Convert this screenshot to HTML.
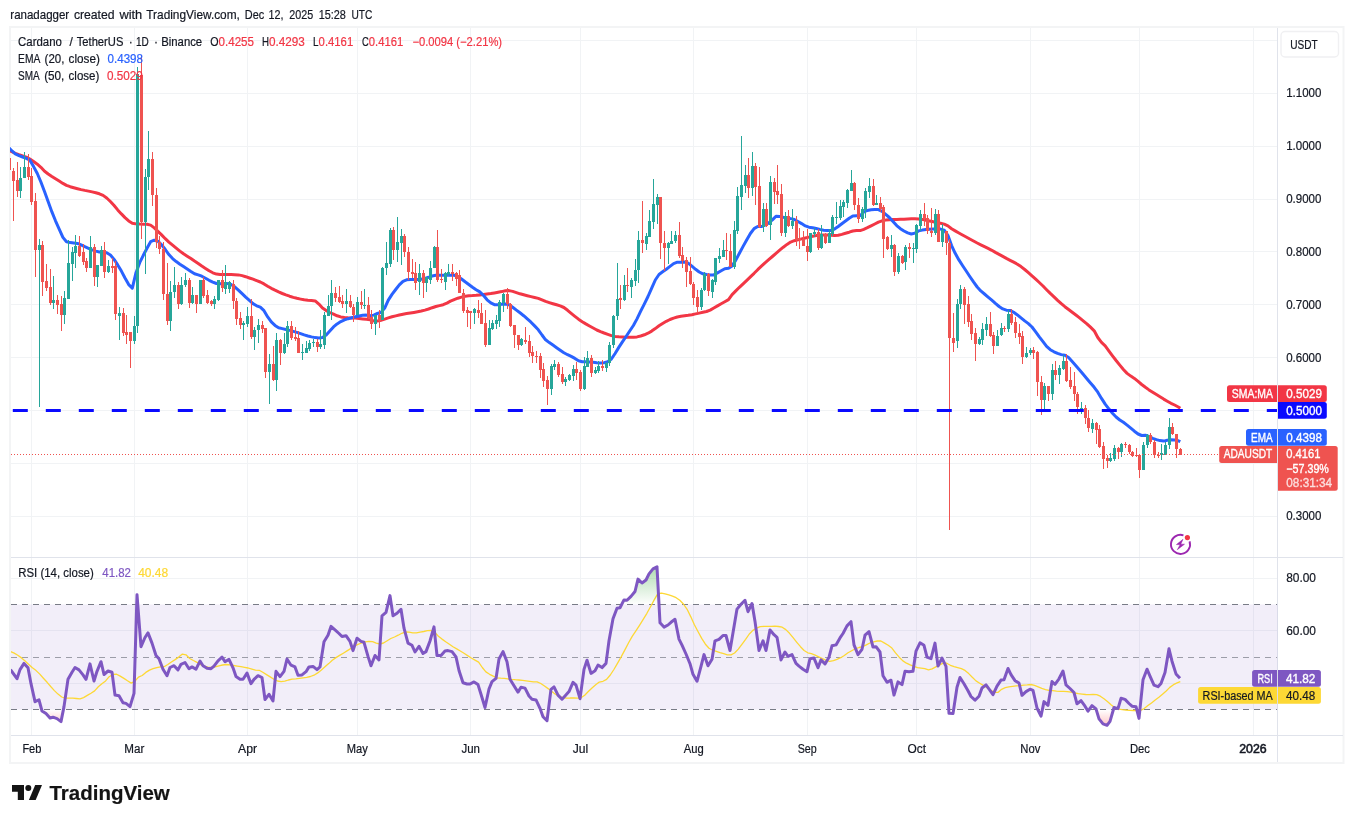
<!DOCTYPE html><html><head><meta charset="utf-8"><title>ADAUSDT chart</title><style>html,body{margin:0;padding:0;background:#fff}body{width:1353px;height:823px;overflow:hidden}</style></head><body><svg width="1353" height="823" viewBox="0 0 1353 823" style="display:block" font-family='"Liberation Sans", sans-serif'>
<rect width="1353" height="823" fill="#fff"/>
<defs><clipPath id="cm"><rect x="10" y="28" width="1267.5" height="529"/></clipPath><clipPath id="cr"><rect x="11" y="558" width="1266.5" height="177.5"/></clipPath><clipPath id="cu"><rect x="11" y="558" width="1266.5" height="46.8"/></clipPath><clipPath id="cl"><rect x="11" y="709.8" width="1266.5" height="26"/></clipPath><linearGradient id="gu" x1="0" y1="558" x2="0" y2="604.8" gradientUnits="userSpaceOnUse"><stop offset="0" stop-color="#4caf50" stop-opacity="0.55"/><stop offset="1" stop-color="#4caf50" stop-opacity="0"/></linearGradient><linearGradient id="gl" x1="0" y1="709.8" x2="0" y2="736" gradientUnits="userSpaceOnUse"><stop offset="0" stop-color="#ff5252" stop-opacity="0"/><stop offset="1" stop-color="#ff5252" stop-opacity="0.55"/></linearGradient></defs>
<rect x="10" y="27" width="1333.5" height="736" fill="none" stroke="#f3f4f5" stroke-width="2"/>
<path d="M31.5 28V735 M134.5 28V735 M247.5 28V735 M357.5 28V735 M470.5 28V735 M580.5 28V735 M693.5 28V735 M807.5 28V735 M916.5 28V735 M1030.5 28V735 M1139.5 28V735 M1253.5 28V735 M11 40.5H1277 M11 93.5H1277 M11 146.5H1277 M11 199.5H1277 M11 251.5H1277 M11 304.5H1277 M11 357.5H1277 M11 410.5H1277 M11 463.5H1277 M11 516.5H1277 M11 578.5H1277 M11 630.5H1277 M11 683.5H1277" stroke="#f1f3f5" stroke-width="1" fill="none" shape-rendering="crispEdges"/>
<path d="M11 557.5H1343 M11 735.5H1343 M1277.5 28V762" stroke="#e0e3eb" stroke-width="1" fill="none" shape-rendering="crispEdges"/>
<rect x="11" y="604.5" width="1266.5" height="105" fill="#7e57c2" fill-opacity="0.1"/>
<path d="M11 604.5H1277 M11 709.5H1277" stroke="#787b86" stroke-width="1" stroke-dasharray="6 5" fill="none" shape-rendering="crispEdges"/>
<path d="M11 657.5H1277" stroke="#787b86" stroke-opacity="0.7" stroke-width="1" stroke-dasharray="6 5" fill="none" shape-rendering="crispEdges"/>
<path d="M10.5 651.6 L14.2 653.1 L17.8 655.3 L21.5 657.9 L25.1 661.0 L28.8 664.5 L32.4 667.8 L36.1 670.6 L39.8 674.1 L43.4 678.2 L47.1 682.3 L50.7 686.5 L54.4 690.6 L58.0 694.1 L61.7 697.0 L65.4 698.1 L69.0 698.1 L72.7 698.2 L76.3 698.5 L80.0 698.8 L83.6 697.6 L87.3 695.4 L91.0 693.2 L94.6 690.9 L98.3 686.8 L101.9 683.7 L105.6 680.9 L109.2 676.7 L112.9 674.5 L116.6 674.2 L120.2 676.1 L123.9 678.4 L127.5 680.8 L131.2 683.1 L134.8 681.3 L138.5 677.1 L142.2 675.5 L145.8 672.4 L149.5 670.1 L153.1 668.7 L156.8 667.6 L160.4 666.8 L164.1 666.7 L167.8 664.5 L171.4 662.0 L175.1 659.6 L178.7 657.1 L182.4 654.1 L186.0 654.8 L189.7 658.5 L193.4 660.5 L197.0 662.3 L200.7 664.6 L204.3 666.1 L208.0 667.1 L211.6 667.5 L215.3 666.9 L219.0 665.8 L222.6 665.0 L226.3 664.5 L229.9 664.9 L233.6 665.5 L237.2 666.1 L240.9 666.7 L244.6 667.3 L248.2 668.0 L251.9 669.1 L255.5 670.1 L259.2 670.3 L262.8 672.3 L266.5 674.6 L270.2 676.9 L273.8 679.2 L277.5 681.0 L281.1 681.6 L284.8 681.2 L288.4 680.0 L292.1 679.2 L295.8 678.8 L299.4 678.3 L303.1 677.8 L306.7 677.3 L310.4 676.5 L314.0 675.2 L317.7 672.9 L321.4 670.0 L325.0 666.8 L328.7 663.6 L332.3 660.2 L336.0 657.6 L339.6 655.4 L343.3 653.2 L347.0 650.9 L350.6 648.6 L354.3 646.3 L357.9 644.4 L361.6 643.0 L365.2 641.8 L368.9 641.3 L372.6 641.7 L376.2 643.1 L379.9 644.0 L383.5 643.0 L387.2 640.7 L390.8 638.5 L394.5 637.0 L398.2 635.2 L401.8 633.3 L405.5 631.8 L409.1 632.1 L412.8 632.8 L416.4 632.9 L420.1 632.2 L423.8 631.5 L427.4 630.7 L431.1 630.5 L434.7 632.3 L438.4 636.2 L442.0 639.1 L445.7 641.8 L449.4 644.3 L453.0 646.8 L456.7 648.9 L460.3 651.0 L464.0 653.3 L467.6 655.6 L471.3 658.0 L475.0 660.1 L478.6 662.1 L482.3 667.5 L485.9 671.9 L489.6 674.3 L493.3 676.2 L496.9 677.9 L500.6 678.2 L504.2 678.4 L507.9 678.8 L511.5 679.3 L515.2 679.7 L518.9 680.0 L522.5 680.4 L526.2 680.9 L529.8 681.4 L533.5 681.9 L537.1 681.8 L540.8 683.5 L544.5 686.0 L548.1 688.6 L551.8 691.4 L555.4 694.2 L559.1 696.2 L562.7 697.5 L566.4 698.1 L570.1 698.0 L573.7 697.8 L577.4 698.1 L581.0 697.8 L584.7 695.2 L588.3 691.5 L592.0 688.0 L595.7 684.8 L599.3 682.1 L603.0 681.3 L606.6 679.4 L610.3 675.0 L613.9 669.5 L617.6 663.1 L621.3 656.6 L624.9 649.9 L628.6 642.8 L632.2 636.4 L635.9 630.9 L639.5 625.3 L643.2 619.4 L646.9 613.3 L650.5 606.8 L654.2 599.9 L657.8 593.6 L661.5 593.1 L665.1 593.8 L668.8 594.8 L672.5 596.1 L676.1 597.7 L679.8 600.2 L683.4 604.0 L687.1 609.3 L690.7 616.6 L694.4 624.8 L698.1 631.8 L701.7 638.4 L705.4 644.2 L709.0 648.2 L712.7 650.2 L716.3 651.4 L720.0 652.6 L723.7 653.7 L727.3 654.8 L731.0 654.8 L734.6 653.0 L738.3 649.1 L741.9 644.3 L745.6 639.3 L749.3 634.0 L752.9 630.4 L756.6 628.1 L760.2 626.6 L763.9 626.4 L767.5 626.4 L771.2 626.3 L774.9 626.2 L778.5 626.5 L782.2 627.2 L785.8 629.6 L789.5 633.3 L793.1 637.7 L796.8 642.3 L800.5 646.7 L804.1 650.5 L807.8 652.8 L811.4 653.7 L815.1 655.1 L818.7 656.9 L822.4 658.7 L826.1 660.4 L829.7 661.3 L833.4 660.6 L837.0 659.3 L840.7 657.7 L844.3 655.5 L848.0 652.8 L851.7 650.7 L855.3 648.8 L859.0 647.5 L862.6 646.6 L866.3 644.9 L869.9 643.0 L873.6 641.9 L877.3 641.0 L880.9 641.0 L884.6 643.1 L888.2 645.3 L891.9 648.1 L895.5 652.9 L899.2 657.2 L902.9 660.9 L906.5 663.2 L910.2 664.9 L913.8 666.4 L917.5 667.7 L921.1 668.1 L924.8 668.6 L928.5 669.8 L932.1 668.8 L935.8 666.9 L939.4 665.1 L943.1 663.2 L946.7 663.2 L950.4 665.3 L954.1 666.6 L957.7 667.6 L961.4 668.6 L965.0 670.4 L968.7 673.6 L972.3 677.3 L976.0 680.9 L979.7 683.2 L983.3 685.4 L987.0 687.7 L990.6 690.1 L994.3 692.3 L997.9 692.4 L1001.6 689.3 L1005.3 687.7 L1008.9 686.9 L1012.6 686.3 L1016.2 685.9 L1019.9 685.6 L1023.5 685.2 L1027.2 684.9 L1030.9 684.5 L1034.5 685.3 L1038.2 686.8 L1041.8 688.4 L1045.5 689.6 L1049.1 690.3 L1052.8 690.7 L1056.5 691.1 L1060.1 691.3 L1063.8 691.4 L1067.4 691.6 L1071.1 692.2 L1074.7 693.0 L1078.4 693.7 L1082.1 694.1 L1085.7 694.5 L1089.4 694.7 L1093.0 694.3 L1096.7 694.6 L1100.3 696.2 L1104.0 698.8 L1107.7 701.8 L1111.3 704.9 L1115.0 707.7 L1118.6 709.1 L1122.3 709.6 L1125.9 710.0 L1129.6 710.3 L1133.3 710.5 L1136.9 710.5 L1140.6 710.3 L1144.2 708.5 L1147.9 705.6 L1151.5 702.9 L1155.2 700.1 L1158.9 697.3 L1162.5 694.2 L1166.2 691.0 L1169.8 687.4 L1173.5 684.7 L1177.1 682.9 L1180.3 681.6" stroke="#fdd835" stroke-width="1.3" fill="none" stroke-linejoin="round" clip-path="url(#cr)"/>
<path d="M10.5 669.6 L17.0 678.7 L20.0 669.6 L24.0 663.4 L28.0 667.8 L31.0 683.7 L35.0 701.7 L39.0 699.9 L42.0 711.0 L46.0 713.6 L50.0 718.0 L53.0 717.2 L57.0 718.6 L61.0 721.6 L64.0 706.6 L68.0 679.3 L72.0 672.2 L75.0 667.5 L79.0 669.9 L83.0 674.9 L86.0 679.3 L90.0 663.9 L94.0 681.0 L97.0 671.3 L101.0 661.7 L104.0 674.5 L108.0 671.0 L112.0 672.2 L115.0 695.1 L119.0 695.7 L123.0 702.7 L126.0 703.4 L130.0 706.6 L134.0 693.4 L137.0 594.7 L141.0 646.7 L145.0 637.5 L148.0 632.9 L152.0 643.1 L156.0 655.5 L159.0 658.7 L163.0 669.2 L167.0 675.7 L170.0 667.5 L174.0 665.7 L178.0 669.9 L181.0 664.3 L185.0 662.5 L189.0 668.7 L192.0 666.9 L196.0 669.2 L200.0 661.1 L203.0 665.7 L207.0 668.2 L211.0 668.7 L214.0 666.1 L218.0 660.8 L222.0 657.2 L225.0 661.7 L229.0 659.4 L233.0 667.8 L236.0 676.6 L240.0 679.3 L243.0 679.3 L247.0 673.1 L251.0 683.7 L254.0 679.3 L258.0 675.7 L262.0 677.5 L265.0 699.5 L269.0 694.3 L273.0 700.9 L276.0 671.3 L280.0 676.6 L284.0 671.3 L287.0 659.0 L291.0 665.2 L295.0 666.9 L298.0 675.2 L302.0 674.9 L306.0 671.7 L309.0 666.9 L313.0 666.4 L317.0 669.6 L320.0 666.9 L324.0 641.7 L328.0 635.2 L331.0 626.4 L335.0 629.9 L339.0 633.5 L342.0 636.5 L346.0 635.7 L350.0 641.4 L353.0 650.6 L357.0 638.2 L361.0 641.4 L364.0 642.3 L368.0 656.4 L371.0 665.7 L375.0 655.5 L379.0 659.9 L382.0 615.8 L386.0 612.3 L390.0 595.6 L393.0 615.8 L397.0 613.2 L401.0 609.3 L404.0 628.2 L408.0 643.1 L412.0 645.3 L415.0 652.0 L419.0 646.3 L423.0 653.4 L426.0 651.6 L430.0 641.0 L434.0 626.9 L437.0 655.5 L441.0 655.5 L445.0 651.1 L448.0 650.6 L452.0 651.6 L456.0 656.9 L459.0 670.5 L463.0 682.8 L467.0 684.0 L470.0 684.0 L474.0 681.9 L478.0 684.6 L481.0 694.3 L485.0 707.5 L489.0 689.0 L492.0 681.6 L496.0 678.4 L499.0 659.0 L503.0 651.6 L507.0 661.7 L510.0 679.3 L514.0 685.8 L518.0 692.1 L521.0 687.2 L525.0 688.1 L529.0 696.0 L532.0 699.2 L536.0 699.9 L540.0 708.3 L543.0 716.8 L547.0 720.7 L551.0 689.3 L554.0 686.9 L558.0 695.1 L562.0 699.2 L565.0 696.0 L569.0 691.6 L573.0 682.3 L576.0 685.1 L580.0 698.7 L584.0 669.4 L587.0 660.2 L591.0 673.4 L595.0 670.8 L598.0 665.1 L602.0 667.6 L606.0 663.4 L609.0 640.8 L613.0 618.8 L617.0 608.2 L620.0 607.7 L624.0 599.9 L627.0 600.3 L631.0 596.4 L635.0 591.5 L638.0 579.1 L642.0 583.0 L646.0 580.0 L649.0 573.9 L653.0 568.9 L657.0 566.8 L660.0 622.8 L664.0 627.1 L668.0 625.0 L671.0 622.3 L675.0 619.3 L679.0 639.1 L682.0 645.2 L686.0 654.0 L690.0 663.7 L693.0 674.3 L697.0 681.3 L701.0 666.4 L704.0 654.6 L708.0 665.8 L712.0 659.3 L715.0 640.8 L719.0 639.4 L723.0 635.5 L726.0 635.5 L730.0 650.5 L734.0 626.7 L737.0 609.1 L741.0 604.2 L745.0 600.3 L748.0 611.7 L752.0 603.5 L755.0 621.4 L759.0 650.5 L763.0 640.8 L766.0 650.5 L770.0 629.9 L774.0 634.7 L777.0 637.3 L781.0 659.9 L785.0 652.0 L788.0 656.4 L792.0 654.6 L796.0 663.4 L799.0 666.1 L803.0 669.2 L807.0 671.7 L810.0 658.7 L814.0 658.1 L818.0 667.8 L821.0 659.9 L825.0 663.9 L829.0 657.2 L832.0 645.8 L836.0 644.9 L840.0 637.9 L843.0 633.5 L847.0 625.9 L851.0 621.7 L854.0 644.9 L858.0 654.6 L862.0 649.3 L865.0 635.2 L869.0 631.7 L873.0 647.0 L876.0 646.7 L880.0 652.0 L883.0 675.7 L887.0 682.3 L891.0 680.2 L894.0 695.1 L898.0 681.9 L902.0 684.6 L905.0 671.3 L909.0 671.7 L913.0 671.3 L916.0 651.1 L920.0 642.8 L924.0 645.3 L927.0 657.2 L931.0 658.7 L935.0 643.1 L938.0 666.1 L942.0 658.1 L946.0 666.4 L949.0 713.3 L953.0 713.6 L957.0 687.2 L960.0 677.5 L964.0 683.7 L968.0 690.7 L971.0 696.5 L975.0 700.2 L979.0 696.2 L982.0 688.0 L986.0 684.9 L990.0 690.3 L993.0 694.7 L997.0 686.1 L1001.0 680.1 L1004.0 679.8 L1008.0 668.5 L1011.0 674.7 L1015.0 680.7 L1019.0 683.0 L1022.0 695.3 L1026.0 691.6 L1030.0 689.2 L1033.0 690.3 L1037.0 708.0 L1041.0 716.2 L1044.0 701.6 L1048.0 705.3 L1052.0 681.6 L1055.0 684.3 L1059.0 678.8 L1063.0 671.0 L1066.0 684.9 L1070.0 688.5 L1074.0 692.5 L1077.0 703.8 L1081.0 700.7 L1085.0 706.2 L1088.0 711.1 L1092.0 705.6 L1096.0 708.9 L1099.0 718.9 L1103.0 723.9 L1107.0 725.3 L1110.0 721.3 L1114.0 707.5 L1118.0 708.6 L1121.0 698.3 L1125.0 699.4 L1129.0 703.5 L1132.0 706.2 L1136.0 706.7 L1139.0 718.4 L1143.0 679.8 L1147.0 669.2 L1150.0 676.1 L1154.0 685.2 L1158.0 686.7 L1161.0 683.4 L1165.0 672.5 L1169.0 648.8 L1172.0 661.2 L1176.0 673.9 L1180.0 678.3 L1180.0 604.5 L10.5 604.5Z" fill="url(#gu)" clip-path="url(#cu)"/>
<path d="M10.5 669.6 L17.0 678.7 L20.0 669.6 L24.0 663.4 L28.0 667.8 L31.0 683.7 L35.0 701.7 L39.0 699.9 L42.0 711.0 L46.0 713.6 L50.0 718.0 L53.0 717.2 L57.0 718.6 L61.0 721.6 L64.0 706.6 L68.0 679.3 L72.0 672.2 L75.0 667.5 L79.0 669.9 L83.0 674.9 L86.0 679.3 L90.0 663.9 L94.0 681.0 L97.0 671.3 L101.0 661.7 L104.0 674.5 L108.0 671.0 L112.0 672.2 L115.0 695.1 L119.0 695.7 L123.0 702.7 L126.0 703.4 L130.0 706.6 L134.0 693.4 L137.0 594.7 L141.0 646.7 L145.0 637.5 L148.0 632.9 L152.0 643.1 L156.0 655.5 L159.0 658.7 L163.0 669.2 L167.0 675.7 L170.0 667.5 L174.0 665.7 L178.0 669.9 L181.0 664.3 L185.0 662.5 L189.0 668.7 L192.0 666.9 L196.0 669.2 L200.0 661.1 L203.0 665.7 L207.0 668.2 L211.0 668.7 L214.0 666.1 L218.0 660.8 L222.0 657.2 L225.0 661.7 L229.0 659.4 L233.0 667.8 L236.0 676.6 L240.0 679.3 L243.0 679.3 L247.0 673.1 L251.0 683.7 L254.0 679.3 L258.0 675.7 L262.0 677.5 L265.0 699.5 L269.0 694.3 L273.0 700.9 L276.0 671.3 L280.0 676.6 L284.0 671.3 L287.0 659.0 L291.0 665.2 L295.0 666.9 L298.0 675.2 L302.0 674.9 L306.0 671.7 L309.0 666.9 L313.0 666.4 L317.0 669.6 L320.0 666.9 L324.0 641.7 L328.0 635.2 L331.0 626.4 L335.0 629.9 L339.0 633.5 L342.0 636.5 L346.0 635.7 L350.0 641.4 L353.0 650.6 L357.0 638.2 L361.0 641.4 L364.0 642.3 L368.0 656.4 L371.0 665.7 L375.0 655.5 L379.0 659.9 L382.0 615.8 L386.0 612.3 L390.0 595.6 L393.0 615.8 L397.0 613.2 L401.0 609.3 L404.0 628.2 L408.0 643.1 L412.0 645.3 L415.0 652.0 L419.0 646.3 L423.0 653.4 L426.0 651.6 L430.0 641.0 L434.0 626.9 L437.0 655.5 L441.0 655.5 L445.0 651.1 L448.0 650.6 L452.0 651.6 L456.0 656.9 L459.0 670.5 L463.0 682.8 L467.0 684.0 L470.0 684.0 L474.0 681.9 L478.0 684.6 L481.0 694.3 L485.0 707.5 L489.0 689.0 L492.0 681.6 L496.0 678.4 L499.0 659.0 L503.0 651.6 L507.0 661.7 L510.0 679.3 L514.0 685.8 L518.0 692.1 L521.0 687.2 L525.0 688.1 L529.0 696.0 L532.0 699.2 L536.0 699.9 L540.0 708.3 L543.0 716.8 L547.0 720.7 L551.0 689.3 L554.0 686.9 L558.0 695.1 L562.0 699.2 L565.0 696.0 L569.0 691.6 L573.0 682.3 L576.0 685.1 L580.0 698.7 L584.0 669.4 L587.0 660.2 L591.0 673.4 L595.0 670.8 L598.0 665.1 L602.0 667.6 L606.0 663.4 L609.0 640.8 L613.0 618.8 L617.0 608.2 L620.0 607.7 L624.0 599.9 L627.0 600.3 L631.0 596.4 L635.0 591.5 L638.0 579.1 L642.0 583.0 L646.0 580.0 L649.0 573.9 L653.0 568.9 L657.0 566.8 L660.0 622.8 L664.0 627.1 L668.0 625.0 L671.0 622.3 L675.0 619.3 L679.0 639.1 L682.0 645.2 L686.0 654.0 L690.0 663.7 L693.0 674.3 L697.0 681.3 L701.0 666.4 L704.0 654.6 L708.0 665.8 L712.0 659.3 L715.0 640.8 L719.0 639.4 L723.0 635.5 L726.0 635.5 L730.0 650.5 L734.0 626.7 L737.0 609.1 L741.0 604.2 L745.0 600.3 L748.0 611.7 L752.0 603.5 L755.0 621.4 L759.0 650.5 L763.0 640.8 L766.0 650.5 L770.0 629.9 L774.0 634.7 L777.0 637.3 L781.0 659.9 L785.0 652.0 L788.0 656.4 L792.0 654.6 L796.0 663.4 L799.0 666.1 L803.0 669.2 L807.0 671.7 L810.0 658.7 L814.0 658.1 L818.0 667.8 L821.0 659.9 L825.0 663.9 L829.0 657.2 L832.0 645.8 L836.0 644.9 L840.0 637.9 L843.0 633.5 L847.0 625.9 L851.0 621.7 L854.0 644.9 L858.0 654.6 L862.0 649.3 L865.0 635.2 L869.0 631.7 L873.0 647.0 L876.0 646.7 L880.0 652.0 L883.0 675.7 L887.0 682.3 L891.0 680.2 L894.0 695.1 L898.0 681.9 L902.0 684.6 L905.0 671.3 L909.0 671.7 L913.0 671.3 L916.0 651.1 L920.0 642.8 L924.0 645.3 L927.0 657.2 L931.0 658.7 L935.0 643.1 L938.0 666.1 L942.0 658.1 L946.0 666.4 L949.0 713.3 L953.0 713.6 L957.0 687.2 L960.0 677.5 L964.0 683.7 L968.0 690.7 L971.0 696.5 L975.0 700.2 L979.0 696.2 L982.0 688.0 L986.0 684.9 L990.0 690.3 L993.0 694.7 L997.0 686.1 L1001.0 680.1 L1004.0 679.8 L1008.0 668.5 L1011.0 674.7 L1015.0 680.7 L1019.0 683.0 L1022.0 695.3 L1026.0 691.6 L1030.0 689.2 L1033.0 690.3 L1037.0 708.0 L1041.0 716.2 L1044.0 701.6 L1048.0 705.3 L1052.0 681.6 L1055.0 684.3 L1059.0 678.8 L1063.0 671.0 L1066.0 684.9 L1070.0 688.5 L1074.0 692.5 L1077.0 703.8 L1081.0 700.7 L1085.0 706.2 L1088.0 711.1 L1092.0 705.6 L1096.0 708.9 L1099.0 718.9 L1103.0 723.9 L1107.0 725.3 L1110.0 721.3 L1114.0 707.5 L1118.0 708.6 L1121.0 698.3 L1125.0 699.4 L1129.0 703.5 L1132.0 706.2 L1136.0 706.7 L1139.0 718.4 L1143.0 679.8 L1147.0 669.2 L1150.0 676.1 L1154.0 685.2 L1158.0 686.7 L1161.0 683.4 L1165.0 672.5 L1169.0 648.8 L1172.0 661.2 L1176.0 673.9 L1180.0 678.3 L1180.0 709.5 L10.5 709.5Z" fill="url(#gl)" clip-path="url(#cl)"/>
<path d="M10.5 669.6 L17.0 678.7 L20.0 669.6 L24.0 663.4 L28.0 667.8 L31.0 683.7 L35.0 701.7 L39.0 699.9 L42.0 711.0 L46.0 713.6 L50.0 718.0 L53.0 717.2 L57.0 718.6 L61.0 721.6 L64.0 706.6 L68.0 679.3 L72.0 672.2 L75.0 667.5 L79.0 669.9 L83.0 674.9 L86.0 679.3 L90.0 663.9 L94.0 681.0 L97.0 671.3 L101.0 661.7 L104.0 674.5 L108.0 671.0 L112.0 672.2 L115.0 695.1 L119.0 695.7 L123.0 702.7 L126.0 703.4 L130.0 706.6 L134.0 693.4 L137.0 594.7 L141.0 646.7 L145.0 637.5 L148.0 632.9 L152.0 643.1 L156.0 655.5 L159.0 658.7 L163.0 669.2 L167.0 675.7 L170.0 667.5 L174.0 665.7 L178.0 669.9 L181.0 664.3 L185.0 662.5 L189.0 668.7 L192.0 666.9 L196.0 669.2 L200.0 661.1 L203.0 665.7 L207.0 668.2 L211.0 668.7 L214.0 666.1 L218.0 660.8 L222.0 657.2 L225.0 661.7 L229.0 659.4 L233.0 667.8 L236.0 676.6 L240.0 679.3 L243.0 679.3 L247.0 673.1 L251.0 683.7 L254.0 679.3 L258.0 675.7 L262.0 677.5 L265.0 699.5 L269.0 694.3 L273.0 700.9 L276.0 671.3 L280.0 676.6 L284.0 671.3 L287.0 659.0 L291.0 665.2 L295.0 666.9 L298.0 675.2 L302.0 674.9 L306.0 671.7 L309.0 666.9 L313.0 666.4 L317.0 669.6 L320.0 666.9 L324.0 641.7 L328.0 635.2 L331.0 626.4 L335.0 629.9 L339.0 633.5 L342.0 636.5 L346.0 635.7 L350.0 641.4 L353.0 650.6 L357.0 638.2 L361.0 641.4 L364.0 642.3 L368.0 656.4 L371.0 665.7 L375.0 655.5 L379.0 659.9 L382.0 615.8 L386.0 612.3 L390.0 595.6 L393.0 615.8 L397.0 613.2 L401.0 609.3 L404.0 628.2 L408.0 643.1 L412.0 645.3 L415.0 652.0 L419.0 646.3 L423.0 653.4 L426.0 651.6 L430.0 641.0 L434.0 626.9 L437.0 655.5 L441.0 655.5 L445.0 651.1 L448.0 650.6 L452.0 651.6 L456.0 656.9 L459.0 670.5 L463.0 682.8 L467.0 684.0 L470.0 684.0 L474.0 681.9 L478.0 684.6 L481.0 694.3 L485.0 707.5 L489.0 689.0 L492.0 681.6 L496.0 678.4 L499.0 659.0 L503.0 651.6 L507.0 661.7 L510.0 679.3 L514.0 685.8 L518.0 692.1 L521.0 687.2 L525.0 688.1 L529.0 696.0 L532.0 699.2 L536.0 699.9 L540.0 708.3 L543.0 716.8 L547.0 720.7 L551.0 689.3 L554.0 686.9 L558.0 695.1 L562.0 699.2 L565.0 696.0 L569.0 691.6 L573.0 682.3 L576.0 685.1 L580.0 698.7 L584.0 669.4 L587.0 660.2 L591.0 673.4 L595.0 670.8 L598.0 665.1 L602.0 667.6 L606.0 663.4 L609.0 640.8 L613.0 618.8 L617.0 608.2 L620.0 607.7 L624.0 599.9 L627.0 600.3 L631.0 596.4 L635.0 591.5 L638.0 579.1 L642.0 583.0 L646.0 580.0 L649.0 573.9 L653.0 568.9 L657.0 566.8 L660.0 622.8 L664.0 627.1 L668.0 625.0 L671.0 622.3 L675.0 619.3 L679.0 639.1 L682.0 645.2 L686.0 654.0 L690.0 663.7 L693.0 674.3 L697.0 681.3 L701.0 666.4 L704.0 654.6 L708.0 665.8 L712.0 659.3 L715.0 640.8 L719.0 639.4 L723.0 635.5 L726.0 635.5 L730.0 650.5 L734.0 626.7 L737.0 609.1 L741.0 604.2 L745.0 600.3 L748.0 611.7 L752.0 603.5 L755.0 621.4 L759.0 650.5 L763.0 640.8 L766.0 650.5 L770.0 629.9 L774.0 634.7 L777.0 637.3 L781.0 659.9 L785.0 652.0 L788.0 656.4 L792.0 654.6 L796.0 663.4 L799.0 666.1 L803.0 669.2 L807.0 671.7 L810.0 658.7 L814.0 658.1 L818.0 667.8 L821.0 659.9 L825.0 663.9 L829.0 657.2 L832.0 645.8 L836.0 644.9 L840.0 637.9 L843.0 633.5 L847.0 625.9 L851.0 621.7 L854.0 644.9 L858.0 654.6 L862.0 649.3 L865.0 635.2 L869.0 631.7 L873.0 647.0 L876.0 646.7 L880.0 652.0 L883.0 675.7 L887.0 682.3 L891.0 680.2 L894.0 695.1 L898.0 681.9 L902.0 684.6 L905.0 671.3 L909.0 671.7 L913.0 671.3 L916.0 651.1 L920.0 642.8 L924.0 645.3 L927.0 657.2 L931.0 658.7 L935.0 643.1 L938.0 666.1 L942.0 658.1 L946.0 666.4 L949.0 713.3 L953.0 713.6 L957.0 687.2 L960.0 677.5 L964.0 683.7 L968.0 690.7 L971.0 696.5 L975.0 700.2 L979.0 696.2 L982.0 688.0 L986.0 684.9 L990.0 690.3 L993.0 694.7 L997.0 686.1 L1001.0 680.1 L1004.0 679.8 L1008.0 668.5 L1011.0 674.7 L1015.0 680.7 L1019.0 683.0 L1022.0 695.3 L1026.0 691.6 L1030.0 689.2 L1033.0 690.3 L1037.0 708.0 L1041.0 716.2 L1044.0 701.6 L1048.0 705.3 L1052.0 681.6 L1055.0 684.3 L1059.0 678.8 L1063.0 671.0 L1066.0 684.9 L1070.0 688.5 L1074.0 692.5 L1077.0 703.8 L1081.0 700.7 L1085.0 706.2 L1088.0 711.1 L1092.0 705.6 L1096.0 708.9 L1099.0 718.9 L1103.0 723.9 L1107.0 725.3 L1110.0 721.3 L1114.0 707.5 L1118.0 708.6 L1121.0 698.3 L1125.0 699.4 L1129.0 703.5 L1132.0 706.2 L1136.0 706.7 L1139.0 718.4 L1143.0 679.8 L1147.0 669.2 L1150.0 676.1 L1154.0 685.2 L1158.0 686.7 L1161.0 683.4 L1165.0 672.5 L1169.0 648.8 L1172.0 661.2 L1176.0 673.9 L1180.0 678.3" stroke="#7e57c2" stroke-width="3" fill="none" stroke-linejoin="round" stroke-linecap="butt" clip-path="url(#cr)"/>
<path d="M8.0 149.8 L11.7 151.7 L15.3 153.3 L19.0 154.7 L22.6 155.9 L26.3 157.1 L29.9 159.0 L33.6 161.5 L37.3 164.2 L40.9 167.3 L44.6 171.3 L48.2 174.0 L51.9 176.5 L55.5 178.8 L59.2 181.1 L62.9 183.4 L66.5 185.3 L70.2 186.7 L73.8 187.7 L77.5 188.7 L81.1 189.6 L84.8 190.4 L88.5 191.1 L92.1 191.9 L95.8 192.7 L99.4 193.8 L103.1 195.4 L106.7 198.0 L110.4 201.5 L114.1 205.5 L117.7 209.9 L121.4 213.9 L125.0 217.6 L128.7 220.9 L132.3 223.2 L136.0 223.9 L139.7 224.1 L143.3 224.2 L147.0 224.3 L150.6 225.1 L154.3 227.9 L157.9 231.3 L161.6 234.9 L165.3 238.7 L168.9 242.1 L172.6 245.2 L176.2 248.1 L179.9 251.1 L183.5 253.8 L187.2 256.2 L190.9 258.6 L194.5 261.1 L198.2 263.5 L201.8 266.0 L205.5 268.4 L209.1 270.8 L212.8 272.8 L216.5 274.1 L220.1 274.5 L223.8 274.6 L227.4 274.6 L231.1 274.6 L234.7 274.7 L238.4 274.9 L242.1 275.6 L245.7 276.7 L249.4 278.0 L253.0 279.2 L256.7 280.6 L260.3 282.0 L264.0 283.9 L267.7 286.2 L271.3 288.3 L275.0 290.2 L278.6 291.9 L282.3 293.5 L285.9 294.9 L289.6 296.2 L293.3 297.4 L296.9 298.3 L300.6 299.1 L304.2 299.8 L307.9 300.2 L311.5 300.5 L315.2 300.9 L318.9 304.1 L322.5 308.0 L326.2 310.6 L329.8 312.5 L333.5 314.2 L337.1 315.8 L340.8 316.9 L344.5 317.4 L348.1 317.7 L351.8 317.9 L355.4 318.1 L359.1 318.5 L362.7 318.9 L366.4 319.3 L370.1 319.8 L373.7 320.9 L377.4 321.1 L381.0 320.2 L384.7 319.1 L388.3 317.9 L392.0 316.8 L395.7 315.9 L399.3 315.0 L403.0 314.2 L406.6 313.6 L410.3 313.0 L413.9 312.4 L417.6 311.7 L421.3 311.0 L424.9 310.1 L428.6 309.0 L432.2 307.7 L435.9 306.5 L439.5 305.6 L443.2 304.7 L446.9 303.1 L450.5 301.2 L454.2 299.6 L457.8 298.2 L461.5 297.1 L465.1 296.2 L468.8 295.8 L472.5 295.6 L476.1 295.3 L479.8 294.9 L483.4 294.5 L487.1 294.0 L490.8 293.5 L494.4 292.9 L498.1 292.2 L501.7 291.6 L505.4 290.8 L509.0 290.6 L512.7 291.4 L516.4 292.6 L520.0 293.8 L523.7 294.8 L527.3 295.7 L531.0 296.6 L534.6 297.5 L538.3 298.4 L542.0 299.9 L545.6 301.4 L549.3 302.6 L552.9 303.7 L556.6 304.8 L560.2 305.9 L563.9 307.5 L567.6 310.3 L571.2 313.3 L574.9 316.3 L578.5 319.2 L582.2 321.7 L585.8 323.9 L589.5 326.0 L593.2 328.0 L596.8 330.0 L600.5 331.6 L604.1 333.0 L607.8 334.3 L611.4 335.6 L615.1 336.4 L618.8 336.8 L622.4 337.0 L626.1 337.2 L629.7 337.3 L633.4 337.3 L637.0 336.9 L640.7 336.0 L644.4 334.8 L648.0 333.2 L651.7 331.1 L655.3 328.6 L659.0 325.8 L662.6 323.5 L666.3 321.3 L670.0 319.5 L673.6 318.1 L677.3 317.0 L680.9 316.3 L684.6 315.8 L688.2 315.3 L691.9 314.7 L695.6 313.9 L699.2 313.1 L702.9 312.3 L706.5 311.5 L710.2 310.1 L713.8 308.0 L717.5 305.9 L721.2 303.8 L724.8 301.7 L728.5 299.6 L732.1 294.6 L735.8 290.9 L739.4 287.3 L743.1 283.8 L746.8 280.3 L750.4 276.8 L754.1 273.3 L757.7 269.7 L761.4 266.2 L765.0 262.9 L768.7 259.7 L772.4 256.5 L776.0 253.3 L779.7 250.2 L783.3 247.2 L787.0 244.4 L790.6 242.1 L794.3 240.7 L798.0 239.8 L801.6 238.9 L805.3 238.0 L808.9 237.1 L812.6 236.3 L816.2 235.6 L819.9 235.1 L823.6 234.9 L827.2 235.1 L830.9 235.3 L834.5 235.5 L838.2 235.3 L841.8 234.4 L845.5 233.3 L849.2 232.2 L852.8 231.0 L856.5 230.4 L860.1 230.6 L863.8 229.3 L867.4 227.7 L871.1 225.9 L874.8 224.0 L878.4 222.2 L882.1 220.8 L885.7 220.1 L889.4 219.7 L893.0 219.5 L896.7 219.4 L900.4 219.3 L904.0 219.2 L907.7 219.0 L911.3 218.8 L915.0 218.7 L918.6 218.9 L922.3 219.4 L926.0 220.2 L929.6 221.0 L933.3 221.8 L936.9 222.6 L940.6 223.3 L944.2 224.1 L947.9 225.9 L951.6 228.8 L955.2 230.9 L958.9 233.0 L962.5 235.0 L966.2 237.0 L969.8 239.0 L973.5 241.0 L977.2 243.0 L980.8 244.8 L984.5 246.6 L988.1 248.4 L991.8 250.3 L995.4 252.4 L999.1 254.4 L1002.8 256.4 L1006.4 258.4 L1010.1 260.3 L1013.7 262.2 L1017.4 264.2 L1021.0 266.6 L1024.7 269.5 L1028.4 272.7 L1032.0 275.9 L1035.7 279.2 L1039.3 282.5 L1043.0 286.0 L1046.6 289.7 L1050.3 293.4 L1054.0 296.9 L1057.6 300.4 L1061.3 303.7 L1064.9 306.7 L1068.6 309.5 L1072.2 312.2 L1075.9 315.0 L1079.6 317.9 L1083.2 320.9 L1086.9 323.9 L1090.5 327.2 L1094.2 330.8 L1097.8 337.5 L1101.5 342.4 L1105.2 345.8 L1108.8 350.8 L1112.5 355.8 L1116.1 360.5 L1119.8 365.1 L1123.4 369.5 L1127.1 373.4 L1130.8 376.1 L1134.4 378.4 L1138.1 381.4 L1141.7 384.5 L1145.4 387.3 L1149.0 389.9 L1152.7 392.3 L1156.4 394.6 L1160.0 396.8 L1163.7 399.1 L1167.3 401.2 L1171.0 403.3 L1174.6 405.0 L1178.3 407.0 L1180.3 408.3" stroke="#f23645" stroke-width="3" fill="none" stroke-linejoin="round" stroke-linecap="butt" clip-path="url(#cm)"/>
<path d="M8.0 146.8 L11.7 150.7 L15.3 153.8 L19.0 155.6 L22.6 157.0 L26.3 158.3 L29.9 160.2 L33.6 166.6 L37.3 173.5 L40.9 182.0 L44.6 191.7 L48.2 201.8 L51.9 211.9 L55.5 220.8 L59.2 229.1 L62.9 237.4 L66.5 241.8 L70.2 242.6 L73.8 243.0 L77.5 243.4 L81.1 244.8 L84.8 246.7 L88.5 248.3 L92.1 249.8 L95.8 251.1 L99.4 252.0 L103.1 252.1 L106.7 252.8 L110.4 255.0 L114.1 259.4 L117.7 264.9 L121.4 271.1 L125.0 278.0 L128.7 284.6 L132.3 288.1 L136.0 272.7 L139.7 262.7 L143.3 255.3 L147.0 248.2 L150.6 241.7 L154.3 240.2 L157.9 241.2 L161.6 244.8 L165.3 249.5 L168.9 254.6 L172.6 258.6 L176.2 261.6 L179.9 264.2 L183.5 266.6 L187.2 269.0 L190.9 271.5 L194.5 273.8 L198.2 274.9 L201.8 276.2 L205.5 278.3 L209.1 280.3 L212.8 282.1 L216.5 283.5 L220.1 283.7 L223.8 283.5 L227.4 283.6 L231.1 284.4 L234.7 286.8 L238.4 290.1 L242.1 293.6 L245.7 297.1 L249.4 300.4 L253.0 303.6 L256.7 305.8 L260.3 307.2 L264.0 310.7 L267.7 316.9 L271.3 321.9 L275.0 325.4 L278.6 327.7 L282.3 328.6 L285.9 329.5 L289.6 330.4 L293.3 331.4 L296.9 332.4 L300.6 333.6 L304.2 334.9 L307.9 336.0 L311.5 336.9 L315.2 337.6 L318.9 337.9 L322.5 337.4 L326.2 335.0 L329.8 331.0 L333.5 326.9 L337.1 323.9 L340.8 321.6 L344.5 319.9 L348.1 318.7 L351.8 317.7 L355.4 316.8 L359.1 316.0 L362.7 315.3 L366.4 315.1 L370.1 315.8 L373.7 315.1 L377.4 313.5 L381.0 312.4 L384.7 308.1 L388.3 300.1 L392.0 294.4 L395.7 289.5 L399.3 284.9 L403.0 281.3 L406.6 279.8 L410.3 279.4 L413.9 279.4 L417.6 279.6 L421.3 279.3 L424.9 278.4 L428.6 277.3 L432.2 276.0 L435.9 275.2 L439.5 275.2 L443.2 275.2 L446.9 275.2 L450.5 275.2 L454.2 275.3 L457.8 276.4 L461.5 279.0 L465.1 281.8 L468.8 284.5 L472.5 287.2 L476.1 289.7 L479.8 291.9 L483.4 295.3 L487.1 299.8 L490.8 302.9 L494.4 304.7 L498.1 304.8 L501.7 304.3 L505.4 304.1 L509.0 304.7 L512.7 307.3 L516.4 310.1 L520.0 312.8 L523.7 315.7 L527.3 318.9 L531.0 322.2 L534.6 325.9 L538.3 329.8 L542.0 335.0 L545.6 339.8 L549.3 342.6 L552.9 345.1 L556.6 347.7 L560.2 350.2 L563.9 352.7 L567.6 354.7 L571.2 356.4 L574.9 358.4 L578.5 360.8 L582.2 361.7 L585.8 361.8 L589.5 361.9 L593.2 362.3 L596.8 362.7 L600.5 363.0 L604.1 362.7 L607.8 361.7 L611.4 359.0 L615.1 353.5 L618.8 347.4 L622.4 341.9 L626.1 336.5 L629.7 331.0 L633.4 325.5 L637.0 318.9 L640.7 311.2 L644.4 303.8 L648.0 296.5 L651.7 288.1 L655.3 280.0 L659.0 274.5 L662.6 271.8 L666.3 269.2 L670.0 266.4 L673.6 263.6 L677.3 262.2 L680.9 262.2 L684.6 262.0 L688.2 263.2 L691.9 266.2 L695.6 269.3 L699.2 272.0 L702.9 273.8 L706.5 274.5 L710.2 275.0 L713.8 274.9 L717.5 272.9 L721.2 270.8 L724.8 268.7 L728.5 268.3 L732.1 265.9 L735.8 260.1 L739.4 253.2 L743.1 246.4 L746.8 239.8 L750.4 233.5 L754.1 228.6 L757.7 226.5 L761.4 226.6 L765.0 225.2 L768.7 222.9 L772.4 219.9 L776.0 216.2 L779.7 216.6 L783.3 217.3 L787.0 217.9 L790.6 218.6 L794.3 219.5 L798.0 221.5 L801.6 223.6 L805.3 225.9 L808.9 227.2 L812.6 227.7 L816.2 228.5 L819.9 229.4 L823.6 230.2 L827.2 230.6 L830.9 230.5 L834.5 229.1 L838.2 226.5 L841.8 223.7 L845.5 221.0 L849.2 218.2 L852.8 216.0 L856.5 215.7 L860.1 215.8 L863.8 212.0 L867.4 210.4 L871.1 209.8 L874.8 209.5 L878.4 209.6 L882.1 211.4 L885.7 214.3 L889.4 217.5 L893.0 221.4 L896.7 225.6 L900.4 228.7 L904.0 231.0 L907.7 232.9 L911.3 234.0 L915.0 233.1 L918.6 230.9 L922.3 230.1 L926.0 229.6 L929.6 229.3 L933.3 229.0 L936.9 228.9 L940.6 229.1 L944.2 230.2 L947.9 235.3 L951.6 245.6 L955.2 253.3 L958.9 259.9 L962.5 265.5 L966.2 271.0 L969.8 276.5 L973.5 281.9 L977.2 287.0 L980.8 290.9 L984.5 294.0 L988.1 297.1 L991.8 300.2 L995.4 303.4 L999.1 306.5 L1002.8 308.9 L1006.4 310.2 L1010.1 310.4 L1013.7 312.3 L1017.4 314.9 L1021.0 317.9 L1024.7 320.9 L1028.4 323.6 L1032.0 327.0 L1035.7 331.8 L1039.3 336.8 L1043.0 341.6 L1046.6 346.4 L1050.3 349.7 L1054.0 351.8 L1057.6 353.4 L1061.3 354.6 L1064.9 355.3 L1068.6 357.6 L1072.2 361.6 L1075.9 365.8 L1079.6 370.1 L1083.2 374.3 L1086.9 378.7 L1090.5 383.0 L1094.2 387.3 L1097.8 392.2 L1101.5 398.4 L1105.2 404.1 L1108.8 408.8 L1112.5 413.2 L1116.1 417.0 L1119.8 420.0 L1123.4 422.3 L1127.1 425.1 L1130.8 428.1 L1134.4 431.2 L1138.1 434.0 L1141.7 435.5 L1145.4 435.3 L1149.0 436.4 L1152.7 438.3 L1156.4 439.6 L1160.0 440.6 L1163.7 441.1 L1167.3 440.3 L1171.0 439.8 L1174.6 439.9 L1178.3 440.8 L1180.3 441.7" stroke="#2962ff" stroke-width="3" fill="none" stroke-linejoin="round" stroke-linecap="butt" clip-path="url(#cm)"/>
<g clip-path="url(#cm)" shape-rendering="crispEdges">
<path d="M20.5 166.9V197.7 M24.5 151.8V178.4 M39.5 239.2V406.6 M53.5 276.0V308.9 M64.5 291.4V324.2 M68.5 240.3V298.6 M72.5 246.6V281.1 M75.5 235.3V268.0 M90.5 236.0V268.0 M97.5 265.0V286.6 M101.5 246.1V266.2 M108.5 260.1V273.2 M119.5 307.2V340.4 M134.5 315.9V344.0 M137.5 67.0V332.8 M145.5 169.2V273.9 M148.5 131.2V190.4 M170.5 281.0V331.2 M174.5 266.9V297.6 M181.5 277.1V305.2 M185.5 273.3V287.3 M192.5 286.8V303.9 M200.5 279.5V304.0 M214.5 296.3V308.5 M218.5 279.8V300.5 M225.5 264.9V293.7 M229.5 281.0V292.5 M243.5 320.5V340.4 M247.5 307.4V327.0 M254.5 327.3V349.9 M258.5 319.3V343.1 M269.5 354.2V403.5 M276.5 333.3V390.7 M284.5 332.9V353.7 M287.5 321.0V347.4 M302.5 344.3V359.6 M306.5 341.4V352.8 M309.5 340.2V350.8 M313.5 338.9V346.5 M320.5 329.9V348.6 M324.5 312.2V348.6 M328.5 295.2V315.6 M331.5 280.2V319.7 M346.5 289.0V313.4 M357.5 296.9V315.1 M364.5 289.0V308.8 M375.5 314.6V334.6 M382.5 267.0V319.8 M386.5 242.4V275.2 M390.5 227.8V266.6 M397.5 217.4V261.5 M401.5 229.1V265.1 M419.5 264.2V294.7 M426.5 277.0V291.6 M430.5 260.6V284.3 M434.5 246.0V268.4 M445.5 272.1V289.7 M448.5 264.2V276.4 M474.5 308.0V323.8 M489.5 319.5V345.3 M492.5 320.2V330.4 M496.5 315.3V329.3 M499.5 300.1V326.7 M503.5 293.0V311.6 M521.5 338.0V345.7 M551.5 364.3V395.1 M554.5 360.2V370.1 M565.5 377.1V385.9 M569.5 374.0V381.0 M573.5 365.2V380.7 M584.5 357.2V390.2 M587.5 351.1V366.6 M595.5 366.6V374.0 M598.5 361.3V372.7 M606.5 361.6V371.9 M609.5 342.2V365.7 M613.5 314.9V347.5 M617.5 263.2V320.4 M624.5 275.3V301.3 M631.5 277.9V298.3 M635.5 259.2V286.3 M638.5 231.2V282.7 M646.5 232.6V250.2 M649.5 210.1V237.2 M653.5 179.0V229.2 M657.5 194.1V223.8 M668.5 241.8V264.3 M671.5 231.2V244.2 M675.5 231.2V243.2 M701.5 287.9V310.4 M704.5 272.3V290.7 M712.5 278.7V298.3 M715.5 258.2V285.3 M719.5 248.2V263.2 M723.5 240.2V256.6 M734.5 221.1V269.3 M737.5 187.1V233.8 M741.5 135.9V209.7 M745.5 165.1V192.8 M752.5 152.0V195.7 M763.5 203.0V231.6 M770.5 176.0V239.8 M785.5 212.1V236.5 M792.5 208.8V228.9 M810.5 232.9V252.9 M814.5 228.0V237.1 M821.5 224.9V248.9 M829.5 229.2V243.1 M832.5 215.2V236.2 M836.5 201.5V224.3 M840.5 200.1V219.8 M843.5 200.1V216.7 M847.5 188.8V207.9 M851.5 170.2V191.0 M862.5 207.0V222.0 M865.5 187.9V218.3 M869.5 178.2V198.4 M876.5 195.2V205.2 M891.5 234.8V256.9 M898.5 253.2V273.9 M905.5 245.0V269.7 M913.5 243.3V262.9 M916.5 223.8V252.7 M920.5 210.2V231.4 M935.5 209.3V234.8 M942.5 224.3V246.7 M957.5 298.8V347.8 M960.5 285.0V308.5 M979.5 336.7V345.0 M982.5 323.1V345.0 M986.5 317.3V336.2 M997.5 329.8V346.2 M1001.5 323.1V336.2 M1008.5 309.7V331.6 M1026.5 347.3V358.2 M1030.5 348.2V354.7 M1044.5 382.9V412.4 M1052.5 363.9V399.7 M1059.5 365.1V384.3 M1063.5 354.7V370.4 M1081.5 402.1V413.6 M1092.5 419.3V432.6 M1110.5 453.0V461.7 M1114.5 445.3V461.2 M1121.5 443.0V456.6 M1143.5 442.4V470.3 M1147.5 434.4V448.4 M1161.5 444.2V459.7 M1165.5 442.1V454.8 M1169.5 418.0V449.3" stroke="#26a69a" stroke-width="1" fill="none"/>
<path d="M9.5 158.0V172.0 M13.5 168.4V220.6 M17.5 162.1V196.9 M28.5 154.2V179.5 M31.5 168.4V204.8 M35.5 193.4V276.7 M42.5 241.1V295.8 M46.5 264.0V290.7 M50.5 268.9V304.5 M57.5 295.1V313.7 M61.5 296.4V330.7 M79.5 236.4V256.9 M83.5 244.3V265.1 M86.5 257.5V271.7 M94.5 243.9V285.5 M104.5 242.2V277.6 M112.5 257.7V273.0 M115.5 260.8V319.8 M123.5 307.8V335.8 M126.5 315.4V343.5 M130.5 332.0V367.7 M141.5 55.0V238.8 M152.5 152.0V205.7 M156.5 188.2V248.1 M159.5 235.7V254.3 M163.5 242.3V300.1 M167.5 263.1V325.1 M178.5 282.2V309.0 M189.5 278.4V307.8 M196.5 295.0V313.4 M203.5 276.6V297.6 M207.5 289.9V303.9 M211.5 300.0V305.5 M222.5 269.5V291.9 M233.5 280.2V309.0 M236.5 297.6V325.1 M240.5 311.6V329.4 M251.5 299.3V338.9 M262.5 321.0V332.6 M265.5 328.2V378.0 M273.5 346.2V381.4 M280.5 338.9V364.7 M291.5 321.0V340.1 M295.5 327.3V341.4 M298.5 331.2V352.8 M317.5 339.2V351.6 M335.5 287.3V302.3 M339.5 286.2V303.2 M342.5 295.2V308.3 M350.5 295.2V308.3 M353.5 304.0V322.4 M361.5 291.3V309.1 M368.5 297.2V319.3 M371.5 309.5V328.7 M379.5 310.3V327.8 M393.5 226.9V259.7 M404.5 233.6V256.9 M408.5 246.6V279.7 M412.5 259.3V277.9 M415.5 261.5V289.7 M423.5 270.2V298.3 M437.5 230.2V281.5 M441.5 269.2V282.5 M452.5 264.2V280.6 M456.5 271.5V286.1 M459.5 270.1V293.4 M463.5 289.2V313.4 M467.5 307.1V326.7 M470.5 311.3V328.6 M478.5 300.1V317.6 M481.5 303.4V323.5 M485.5 310.3V346.8 M507.5 287.9V308.5 M510.5 303.4V326.7 M514.5 324.9V347.5 M518.5 334.8V349.9 M525.5 326.7V344.0 M529.5 335.2V356.7 M532.5 345.8V362.9 M536.5 351.1V362.9 M540.5 352.8V377.8 M543.5 363.4V387.2 M547.5 376.3V404.8 M558.5 361.6V377.0 M562.5 366.9V384.2 M576.5 362.2V380.1 M580.5 370.1V391.1 M591.5 355.1V377.0 M602.5 360.2V370.8 M620.5 284.7V309.4 M627.5 268.3V292.3 M642.5 201.1V253.2 M660.5 197.1V258.6 M664.5 231.2V271.3 M679.5 222.1V258.2 M682.5 246.6V268.3 M686.5 257.2V287.3 M690.5 257.2V285.3 M693.5 281.9V305.3 M697.5 290.3V312.8 M708.5 273.3V296.3 M726.5 233.2V259.8 M730.5 234.2V267.3 M748.5 157.8V197.9 M755.5 162.9V204.8 M759.5 166.9V228.0 M766.5 203.0V227.1 M774.5 177.9V203.7 M777.5 165.1V204.3 M781.5 183.9V235.8 M788.5 210.1V226.7 M796.5 215.8V245.6 M799.5 228.0V248.9 M803.5 231.1V246.2 M807.5 228.5V260.8 M818.5 229.2V249.8 M825.5 232.5V243.8 M854.5 181.9V209.7 M858.5 197.5V223.4 M873.5 179.1V206.1 M880.5 197.4V211.6 M883.5 205.1V257.8 M887.5 236.2V249.8 M894.5 243.7V275.6 M902.5 254.9V263.7 M909.5 243.0V257.8 M924.5 203.4V226.3 M927.5 215.3V234.0 M931.5 208.1V236.5 M938.5 210.2V241.6 M946.5 231.4V254.9 M949.5 238.8V529.7 M953.5 313.1V351.7 M964.5 287.3V323.5 M968.5 296.3V327.0 M971.5 314.3V339.7 M975.5 328.2V360.5 M990.5 312.0V337.4 M993.5 331.6V353.6 M1004.5 325.8V331.6 M1011.5 308.5V324.7 M1015.5 316.6V338.1 M1019.5 324.2V343.6 M1022.5 331.2V363.9 M1033.5 347.3V359.3 M1037.5 350.6V395.8 M1041.5 376.0V414.8 M1048.5 385.9V400.9 M1055.5 361.2V380.1 M1066.5 353.6V382.0 M1070.5 367.4V388.9 M1074.5 372.0V400.9 M1077.5 391.7V413.6 M1085.5 404.7V423.8 M1088.5 410.2V431.7 M1096.5 422.0V443.5 M1099.5 424.7V447.9 M1103.5 442.4V468.5 M1107.5 455.2V467.6 M1118.5 447.2V459.4 M1125.5 442.4V448.4 M1129.5 443.5V453.9 M1132.5 451.2V456.6 M1136.5 448.4V456.6 M1139.5 454.8V477.6 M1150.5 433.3V443.5 M1154.5 439.9V457.6 M1158.5 452.1V457.6 M1172.5 422.9V435.1 M1176.5 434.4V457.6 M1180.5 447.9V455.2" stroke="#ef5350" stroke-width="1" fill="none"/>
<path d="M19 177.9h3v12.7h-3z M23 167.2h3v11.2h-3z M38 244.8h3v5.0h-3z M52 300.1h3v3.3h-3z M63 298.0h3v16.8h-3z M67 263.0h3v35.6h-3z M71 252.0h3v11.6h-3z M74 246.1h3v6.6h-3z M89 246.6h3v21.4h-3z M96 265.1h3v11.6h-3z M100 249.8h3v16.4h-3z M107 265.8h3v6.6h-3z M118 312.9h3v3.0h-3z M133 326.1h3v15.3h-3z M136 74.2h3v251.9h-3z M144 177.4h3v44.3h-3z M147 159.3h3v18.1h-3z M169 291.9h3v28.6h-3z M173 285.3h3v6.6h-3z M180 284.8h3v19.1h-3z M184 279.7h3v5.6h-3z M191 295.0h3v7.7h-3z M199 280.2h3v23.7h-3z M213 298.8h3v5.1h-3z M217 280.2h3v19.4h-3z M224 281.5h3v7.1h-3z M228 282.2h3v7.2h-3z M242 323.1h3v2.0h-3z M246 315.6h3v8.8h-3z M253 329.9h3v6.8h-3z M257 324.8h3v5.6h-3z M268 363.9h3v7.6h-3z M275 339.7h3v40.0h-3z M283 344.0h3v8.8h-3z M286 326.1h3v18.2h-3z M301 352.0h3v1.0h-3z M305 348.2h3v4.6h-3z M308 343.1h3v5.6h-3z M312 342.3h3v1.0h-3z M319 344.0h3v2.9h-3z M323 314.7h3v29.8h-3z M327 305.7h3v9.9h-3z M330 293.0h3v12.7h-3z M345 301.1h3v2.4h-3z M356 301.8h3v13.3h-3z M363 304.9h3v1.0h-3z M374 315.1h3v9.3h-3z M381 267.9h3v51.9h-3z M385 263.3h3v5.1h-3z M389 229.6h3v34.1h-3z M396 242.0h3v7.7h-3z M400 236.0h3v7.3h-3z M418 273.3h3v8.6h-3z M425 277.0h3v5.5h-3z M429 268.2h3v11.9h-3z M433 246.9h3v21.5h-3z M444 272.8h3v8.7h-3z M447 272.4h3v1.1h-3z M473 309.2h3v3.3h-3z M488 328.0h3v17.0h-3z M491 323.1h3v5.5h-3z M495 319.8h3v3.7h-3z M498 302.0h3v18.7h-3z M502 294.3h3v8.2h-3z M520 339.0h3v6.0h-3z M550 366.0h3v22.9h-3z M553 364.3h3v3.0h-3z M564 379.3h3v2.6h-3z M568 375.2h3v4.4h-3z M572 369.2h3v6.5h-3z M583 366.0h3v22.9h-3z M586 358.1h3v8.5h-3z M594 370.4h3v2.7h-3z M597 365.7h3v5.1h-3z M605 362.9h3v4.9h-3z M608 344.9h3v18.5h-3z M612 315.8h3v29.6h-3z M616 298.9h3v17.5h-3z M623 285.3h3v15.0h-3z M630 279.9h3v6.8h-3z M634 269.9h3v11.0h-3z M637 240.2h3v30.1h-3z M645 236.2h3v7.6h-3z M648 221.1h3v16.1h-3z M652 204.1h3v17.6h-3z M656 197.1h3v7.4h-3z M667 242.6h3v5.6h-3z M670 240.8h3v3.0h-3z M674 235.2h3v6.0h-3z M700 289.9h3v17.5h-3z M703 273.9h3v16.4h-3z M711 280.3h3v11.4h-3z M714 258.2h3v24.1h-3z M718 256.2h3v2.4h-3z M722 250.2h3v6.4h-3z M733 230.2h3v37.1h-3z M736 196.1h3v34.5h-3z M740 184.8h3v12.2h-3z M744 175.1h3v10.6h-3z M751 166.0h3v21.9h-3z M762 208.8h3v18.3h-3z M769 181.9h3v43.0h-3z M784 216.1h3v16.8h-3z M791 221.0h3v5.1h-3z M809 233.4h3v18.3h-3z M813 231.6h3v2.2h-3z M820 234.3h3v13.2h-3z M828 233.1h3v9.5h-3z M831 217.0h3v17.3h-3z M835 216.7h3v1.2h-3z M839 206.1h3v11.8h-3z M842 201.9h3v4.7h-3z M846 189.7h3v13.3h-3z M850 183.3h3v7.3h-3z M861 209.2h3v9.7h-3z M864 191.0h3v18.7h-3z M868 186.1h3v5.4h-3z M875 202.5h3v2.3h-3z M890 245.0h3v3.8h-3z M897 256.1h3v15.8h-3z M904 246.7h3v15.3h-3z M912 248.1h3v1.0h-3z M915 225.0h3v23.8h-3z M919 214.1h3v12.2h-3z M934 214.1h3v18.7h-3z M941 229.7h3v11.9h-3z M956 303.9h3v37.0h-3z M959 288.9h3v15.5h-3z M978 338.5h3v5.8h-3z M981 329.3h3v10.4h-3z M985 323.5h3v6.3h-3z M996 335.8h3v9.7h-3z M1000 328.2h3v6.4h-3z M1007 313.6h3v15.2h-3z M1025 352.9h3v4.1h-3z M1029 350.1h3v2.8h-3z M1043 385.9h3v13.8h-3z M1051 369.7h3v24.3h-3z M1058 368.1h3v6.9h-3z M1062 361.2h3v7.4h-3z M1080 407.8h3v2.8h-3z M1091 422.9h3v5.9h-3z M1109 458.1h3v2.5h-3z M1113 447.9h3v10.9h-3z M1120 443.9h3v7.6h-3z M1142 444.8h3v25.5h-3z M1146 435.1h3v10.2h-3z M1160 453.4h3v1.8h-3z M1164 444.8h3v9.7h-3z M1168 426.6h3v18.7h-3z" fill="#26a69a"/>
<path d="M8 158.0h3v12.0h-3z M12 170.8h3v10.0h-3z M16 180.3h3v10.3h-3z M27 167.2h3v9.9h-3z M30 176.3h3v25.3h-3z M34 201.3h3v48.5h-3z M41 244.8h3v36.7h-3z M45 281.1h3v6.6h-3z M49 287.0h3v16.4h-3z M56 300.1h3v4.9h-3z M60 304.1h3v10.7h-3z M78 245.5h3v10.2h-3z M82 252.0h3v9.9h-3z M85 260.8h3v7.2h-3z M93 247.0h3v29.7h-3z M103 249.8h3v22.6h-3z M111 265.8h3v2.2h-3z M114 266.2h3v48.1h-3z M122 312.9h3v20.4h-3z M125 332.0h3v2.5h-3z M129 332.0h3v9.4h-3z M140 75.0h3v146.7h-3z M151 159.3h3v36.1h-3z M155 195.4h3v46.3h-3z M158 241.7h3v6.8h-3z M162 248.5h3v45.2h-3z M166 293.7h3v26.8h-3z M177 285.3h3v18.6h-3z M188 279.7h3v23.0h-3z M195 295.0h3v8.9h-3z M202 280.2h3v15.3h-3z M206 295.0h3v7.7h-3z M210 301.4h3v3.0h-3z M221 280.2h3v7.7h-3z M232 284.0h3v17.4h-3z M235 300.6h3v17.9h-3z M239 318.0h3v7.1h-3z M250 315.6h3v21.1h-3z M261 324.8h3v3.9h-3z M264 328.2h3v43.3h-3z M272 363.9h3v15.8h-3z M279 339.7h3v13.1h-3z M290 326.1h3v11.9h-3z M294 337.2h3v1.7h-3z M297 338.0h3v14.8h-3z M316 341.9h3v5.0h-3z M334 293.0h3v5.1h-3z M338 297.2h3v4.3h-3z M341 300.6h3v2.9h-3z M349 301.1h3v6.3h-3z M352 307.1h3v8.0h-3z M360 301.8h3v3.6h-3z M367 304.9h3v12.7h-3z M370 317.3h3v7.1h-3z M378 315.1h3v5.9h-3z M392 229.6h3v20.1h-3z M403 236.0h3v16.0h-3z M407 252.0h3v19.5h-3z M411 271.5h3v2.4h-3z M414 273.3h3v9.2h-3z M422 273.3h3v9.2h-3z M436 246.9h3v32.8h-3z M440 278.8h3v1.3h-3z M451 272.4h3v1.5h-3z M455 272.8h3v6.6h-3z M458 275.2h3v18.2h-3z M462 293.0h3v17.7h-3z M466 309.8h3v2.7h-3z M469 311.3h3v1.2h-3z M477 309.8h3v3.6h-3z M480 312.5h3v11.0h-3z M484 323.1h3v21.9h-3z M506 294.3h3v10.0h-3z M509 304.3h3v21.3h-3z M513 324.9h3v10.4h-3z M517 334.8h3v10.2h-3z M524 340.1h3v2.1h-3z M528 340.8h3v11.7h-3z M531 351.9h3v4.1h-3z M535 355.5h3v1.2h-3z M539 355.8h3v14.3h-3z M542 369.2h3v11.8h-3z M546 380.1h3v8.8h-3z M557 364.3h3v10.5h-3z M561 374.3h3v7.6h-3z M575 369.2h3v3.9h-3z M579 372.2h3v16.7h-3z M590 358.1h3v14.6h-3z M601 365.7h3v2.1h-3z M619 298.3h3v1.6h-3z M626 284.7h3v1.6h-3z M641 240.2h3v3.0h-3z M659 197.1h3v46.1h-3z M663 242.6h3v5.6h-3z M678 235.2h3v20.6h-3z M681 255.2h3v6.0h-3z M685 260.2h3v12.1h-3z M689 271.3h3v13.0h-3z M692 283.9h3v14.0h-3z M696 297.3h3v10.1h-3z M707 273.9h3v17.4h-3z M725 249.8h3v1.0h-3z M729 250.6h3v16.7h-3z M747 175.1h3v12.8h-3z M754 166.0h3v20.6h-3z M758 186.1h3v41.0h-3z M765 208.8h3v16.8h-3z M773 181.9h3v9.6h-3z M776 191.0h3v3.6h-3z M780 193.9h3v39.0h-3z M787 216.1h3v10.0h-3z M795 221.0h3v18.5h-3z M798 238.4h3v1.8h-3z M802 238.9h3v6.7h-3z M806 245.6h3v6.1h-3z M817 232.2h3v15.3h-3z M824 234.3h3v8.3h-3z M853 183.0h3v22.2h-3z M857 204.8h3v14.1h-3z M872 186.1h3v18.7h-3z M879 202.5h3v6.7h-3z M882 207.3h3v31.3h-3z M886 237.4h3v11.9h-3z M893 245.0h3v26.9h-3z M901 256.1h3v6.8h-3z M908 247.1h3v1.7h-3z M923 214.1h3v4.6h-3z M926 217.5h3v13.9h-3z M930 231.1h3v1.7h-3z M937 214.1h3v27.5h-3z M945 231.4h3v11.9h-3z M948 242.7h3v95.4h-3z M952 338.1h3v5.1h-3z M963 288.9h3v16.2h-3z M967 304.4h3v17.5h-3z M970 321.2h3v12.7h-3z M974 332.8h3v11.5h-3z M989 323.5h3v12.3h-3z M992 335.1h3v10.4h-3z M1003 327.5h3v1.8h-3z M1010 313.6h3v9.5h-3z M1014 322.4h3v10.4h-3z M1018 332.8h3v3.9h-3z M1021 335.8h3v21.2h-3z M1032 350.1h3v2.8h-3z M1036 351.9h3v30.5h-3z M1040 382.0h3v17.7h-3z M1047 385.9h3v8.1h-3z M1054 369.7h3v5.3h-3z M1065 361.2h3v20.1h-3z M1069 380.1h3v6.5h-3z M1073 385.9h3v8.5h-3z M1076 394.0h3v12.7h-3z M1084 407.8h3v10.6h-3z M1087 418.0h3v10.4h-3z M1095 422.9h3v6.8h-3z M1098 428.9h3v18.1h-3z M1102 446.1h3v12.4h-3z M1106 458.1h3v2.5h-3z M1117 447.9h3v3.6h-3z M1124 443.9h3v1.4h-3z M1128 444.8h3v7.6h-3z M1131 452.1h3v3.6h-3z M1135 454.5h3v1.2h-3z M1138 454.8h3v15.5h-3z M1149 435.1h3v7.3h-3z M1153 442.1h3v12.7h-3z M1157 454.5h3v1.2h-3z M1171 426.6h3v7.8h-3z M1175 434.4h3v14.9h-3z M1179 449.3h3v5.2h-3z" fill="#ef5350"/>
</g>
<path d="M11 454.5H1277" stroke="#ef5350" stroke-width="1" stroke-dasharray="1 2" fill="none" shape-rendering="crispEdges"/>
<path d="M11 410.5H1277" stroke="#0a0aff" stroke-width="3" stroke-dasharray="15 18" stroke-dashoffset="31.2" fill="none"/>
<text y="19.3" font-size="13" fill="#131722" stroke="#131722" stroke-width="0.2" xml:space="preserve"><tspan x="10.3" textLength="58.9" lengthAdjust="spacingAndGlyphs">ranadagger</tspan> <tspan x="73.9" textLength="40.7" lengthAdjust="spacingAndGlyphs">created</tspan> <tspan x="119.4" textLength="22.8" lengthAdjust="spacingAndGlyphs">with</tspan> <tspan x="146.3" textLength="93.6" lengthAdjust="spacingAndGlyphs">TradingView.com,</tspan> <tspan x="244.8" textLength="19.4" lengthAdjust="spacingAndGlyphs">Dec</tspan> <tspan x="268.5" textLength="15" lengthAdjust="spacingAndGlyphs">12,</tspan> <tspan x="289.3" textLength="23.9" lengthAdjust="spacingAndGlyphs">2025</tspan> <tspan x="318.7" textLength="27.2" lengthAdjust="spacingAndGlyphs">15:28</tspan> <tspan x="351.4" textLength="20.9" lengthAdjust="spacingAndGlyphs">UTC</tspan></text>
<text y="45.6" font-size="12" fill="#131722" stroke="#131722" stroke-width="0.2" xml:space="preserve"><tspan x="18.1" textLength="43.8" lengthAdjust="spacingAndGlyphs">Cardano</tspan> <tspan x="69.4">/</tspan> <tspan x="76.7" textLength="46.7" lengthAdjust="spacingAndGlyphs">TetherUS</tspan> <tspan x="128.8">·</tspan> <tspan x="135.9" textLength="12.8" lengthAdjust="spacingAndGlyphs">1D</tspan> <tspan x="154.1">·</tspan> <tspan x="161.2" textLength="41" lengthAdjust="spacingAndGlyphs">Binance</tspan></text>
<text x="210.2" y="45.6" font-size="12" fill="#131722" stroke="#131722" stroke-width="0.2" textLength="8.3" lengthAdjust="spacingAndGlyphs">O</text>
<text x="218.6" y="45.6" font-size="12" fill="#f23645" stroke="#f23645" stroke-width="0.2" textLength="35.4" lengthAdjust="spacingAndGlyphs">0.4255</text>
<text x="261.9" y="45.6" font-size="12" fill="#131722" stroke="#131722" stroke-width="0.2" textLength="7" lengthAdjust="spacingAndGlyphs">H</text>
<text x="268.9" y="45.6" font-size="12" fill="#f23645" stroke="#f23645" stroke-width="0.2" textLength="35.9" lengthAdjust="spacingAndGlyphs">0.4293</text>
<text x="313" y="45.6" font-size="12" fill="#131722" stroke="#131722" stroke-width="0.2" textLength="5.5" lengthAdjust="spacingAndGlyphs">L</text>
<text x="318.6" y="45.6" font-size="12" fill="#f23645" stroke="#f23645" stroke-width="0.2" textLength="34.6" lengthAdjust="spacingAndGlyphs">0.4161</text>
<text x="362" y="45.6" font-size="12" fill="#131722" stroke="#131722" stroke-width="0.2" textLength="6.8" lengthAdjust="spacingAndGlyphs">C</text>
<text x="368.8" y="45.6" font-size="12" fill="#f23645" stroke="#f23645" stroke-width="0.2" textLength="34.4" lengthAdjust="spacingAndGlyphs">0.4161</text>
<text x="412.4" y="45.6" font-size="12" fill="#f23645" stroke="#f23645" stroke-width="0.2" textLength="89.7" lengthAdjust="spacingAndGlyphs">−0.0094 (−2.21%)</text>
<text y="62.6" font-size="12" fill="#131722" stroke="#131722" stroke-width="0.2" xml:space="preserve"><tspan x="18.1" textLength="21.7" lengthAdjust="spacingAndGlyphs">EMA</tspan> <tspan x="44.6" textLength="19.8" lengthAdjust="spacingAndGlyphs">(20,</tspan> <tspan x="68.6" textLength="31.3" lengthAdjust="spacingAndGlyphs">close)</tspan></text>
<text x="107.6" y="62.6" font-size="12" fill="#2962ff" stroke="#2962ff" stroke-width="0.2" textLength="35.4" lengthAdjust="spacingAndGlyphs">0.4398</text>
<text y="79.8" font-size="12" fill="#131722" stroke="#131722" stroke-width="0.2" xml:space="preserve"><tspan x="18.1" textLength="21.1" lengthAdjust="spacingAndGlyphs">SMA</tspan> <tspan x="44.2" textLength="20.2" lengthAdjust="spacingAndGlyphs">(50,</tspan> <tspan x="68.6" textLength="30.8" lengthAdjust="spacingAndGlyphs">close)</tspan></text>
<text x="107" y="79.8" font-size="12" fill="#f23645" stroke="#f23645" stroke-width="0.2" textLength="35.8" lengthAdjust="spacingAndGlyphs">0.5029</text>
<text x="18.2" y="577" font-size="12" fill="#131722" stroke="#131722" stroke-width="0.2" textLength="75.6" lengthAdjust="spacingAndGlyphs">RSI (14, close)</text>
<text x="102.3" y="577" font-size="12" fill="#7e57c2" stroke="#7e57c2" stroke-width="0.2" textLength="28.6" lengthAdjust="spacingAndGlyphs">41.82</text>
<text x="138.2" y="577" font-size="12" fill="#fdd835" stroke="#fdd835" stroke-width="0.2" textLength="30" lengthAdjust="spacingAndGlyphs">40.48</text>
<text x="1286.2" y="97.0" font-size="12" fill="#131722" stroke="#131722" stroke-width="0.2" textLength="35.2" lengthAdjust="spacingAndGlyphs">1.1000</text>
<text x="1286.2" y="149.9" font-size="12" fill="#131722" stroke="#131722" stroke-width="0.2" textLength="35.2" lengthAdjust="spacingAndGlyphs">1.0000</text>
<text x="1286.2" y="202.8" font-size="12" fill="#131722" stroke="#131722" stroke-width="0.2" textLength="35.2" lengthAdjust="spacingAndGlyphs">0.9000</text>
<text x="1286.2" y="255.7" font-size="12" fill="#131722" stroke="#131722" stroke-width="0.2" textLength="35.2" lengthAdjust="spacingAndGlyphs">0.8000</text>
<text x="1286.2" y="308.6" font-size="12" fill="#131722" stroke="#131722" stroke-width="0.2" textLength="35.2" lengthAdjust="spacingAndGlyphs">0.7000</text>
<text x="1286.2" y="361.5" font-size="12" fill="#131722" stroke="#131722" stroke-width="0.2" textLength="35.2" lengthAdjust="spacingAndGlyphs">0.6000</text>
<text x="1286.2" y="520.0" font-size="12" fill="#131722" stroke="#131722" stroke-width="0.2" textLength="35.2" lengthAdjust="spacingAndGlyphs">0.3000</text>
<text x="1286.2" y="582.0" font-size="12" fill="#131722" stroke="#131722" stroke-width="0.2" textLength="29.8" lengthAdjust="spacingAndGlyphs">80.00</text>
<text x="1286.2" y="634.5" font-size="12" fill="#131722" stroke="#131722" stroke-width="0.2" textLength="29.8" lengthAdjust="spacingAndGlyphs">60.00</text>
<rect x="1281" y="31.5" width="57.5" height="25.5" rx="4" fill="#fff" stroke="#f0f0f2" stroke-width="1.4"/>
<text x="1290.3" y="49" font-size="12" fill="#131722" stroke="#131722" stroke-width="0.2" textLength="27.5" lengthAdjust="spacingAndGlyphs">USDT</text>
<text x="22.4" y="753.2" font-size="12" fill="#131722" stroke="#131722" stroke-width="0.2" textLength="19" lengthAdjust="spacingAndGlyphs">Feb</text>
<text x="124.3" y="753.2" font-size="12" fill="#131722" stroke="#131722" stroke-width="0.2" textLength="20" lengthAdjust="spacingAndGlyphs">Mar</text>
<text x="238.1" y="753.2" font-size="12" fill="#131722" stroke="#131722" stroke-width="0.2" textLength="19" lengthAdjust="spacingAndGlyphs">Apr</text>
<text x="346.8" y="753.2" font-size="12" fill="#131722" stroke="#131722" stroke-width="0.2" textLength="21" lengthAdjust="spacingAndGlyphs">May</text>
<text x="461.5" y="753.2" font-size="12" fill="#131722" stroke="#131722" stroke-width="0.2" textLength="18.5" lengthAdjust="spacingAndGlyphs">Jun</text>
<text x="572.7" y="753.2" font-size="12" fill="#131722" stroke="#131722" stroke-width="0.2" textLength="15.5" lengthAdjust="spacingAndGlyphs">Jul</text>
<text x="683.8" y="753.2" font-size="12" fill="#131722" stroke="#131722" stroke-width="0.2" textLength="20" lengthAdjust="spacingAndGlyphs">Aug</text>
<text x="797.7" y="753.2" font-size="12" fill="#131722" stroke="#131722" stroke-width="0.2" textLength="19" lengthAdjust="spacingAndGlyphs">Sep</text>
<text x="907.6" y="753.2" font-size="12" fill="#131722" stroke="#131722" stroke-width="0.2" textLength="18.5" lengthAdjust="spacingAndGlyphs">Oct</text>
<text x="1020.3" y="753.2" font-size="12" fill="#131722" stroke="#131722" stroke-width="0.2" textLength="20" lengthAdjust="spacingAndGlyphs">Nov</text>
<text x="1130.0" y="753.2" font-size="12" fill="#131722" stroke="#131722" stroke-width="0.2" textLength="20" lengthAdjust="spacingAndGlyphs">Dec</text>
<text x="1239.2" y="753.2" font-size="12" fill="#131722" stroke="#131722" stroke-width="0.55" textLength="27.4" lengthAdjust="spacingAndGlyphs">2026</text>
<path d="M1277 385.2H1229.5Q1227 385.2 1227 387.7V399.5Q1227 402 1229.5 402H1277Z" fill="#f23645"/>
<text x="1231.8" y="397.9" font-size="12" fill="#fff" stroke="#fff" stroke-width="0.35" textLength="41.2" lengthAdjust="spacingAndGlyphs">SMA:MA</text>
<path d="M1278 385.2H1324.3Q1326.8 385.2 1326.8 387.7V399.5Q1326.8 402 1324.3 402H1278Z" fill="#f23645"/>
<text x="1286.3" y="397.9" font-size="12" fill="#fff" stroke="#fff" stroke-width="0.35" textLength="35.6" lengthAdjust="spacingAndGlyphs">0.5029</text>
<path d="M1278 402H1324.3Q1326.8 402 1326.8 404.5V416.3Q1326.8 418.8 1324.3 418.8H1278Z" fill="#0a0aff"/>
<text x="1286.3" y="414.6" font-size="12" fill="#fff" stroke="#fff" stroke-width="0.35" textLength="35.6" lengthAdjust="spacingAndGlyphs">0.5000</text>
<path d="M1277 428.9H1248.5Q1246 428.9 1246 431.4V443.3Q1246 445.8 1248.5 445.8H1277Z" fill="#2962ff"/>
<text x="1251.1" y="441.6" font-size="12" fill="#fff" stroke="#fff" stroke-width="0.35" textLength="21.6" lengthAdjust="spacingAndGlyphs">EMA</text>
<path d="M1278 428.9H1324.3Q1326.8 428.9 1326.8 431.4V443.3Q1326.8 445.8 1324.3 445.8H1278Z" fill="#2962ff"/>
<text x="1286.3" y="441.6" font-size="12" fill="#fff" stroke="#fff" stroke-width="0.35" textLength="35.6" lengthAdjust="spacingAndGlyphs">0.4398</text>
<path d="M1277 446.1H1221.7Q1219.2 446.1 1219.2 448.6V460.5Q1219.2 463 1221.7 463H1277Z" fill="#ef5350"/>
<text x="1223.7" y="458.4" font-size="12" fill="#fff" stroke="#fff" stroke-width="0.35" textLength="48.6" lengthAdjust="spacingAndGlyphs">ADAUSDT</text>
<path d="M1278 446.1H1335.2Q1337.7 446.1 1337.7 448.6V488.3Q1337.7 490.8 1335.2 490.8H1278Z" fill="#ef5350"/>
<text x="1286.3" y="458.4" font-size="12" fill="#fff" stroke="#fff" stroke-width="0.35" textLength="34.2" lengthAdjust="spacingAndGlyphs">0.4161</text>
<text x="1286.3" y="472.5" font-size="12" fill="#fff" stroke="#fff" stroke-width="0.35" textLength="42.6" lengthAdjust="spacingAndGlyphs">−57.39%</text>
<text x="1286.3" y="486.6" font-size="12" fill="#fff" stroke="#fff" stroke-width="0.35" textLength="45.8" lengthAdjust="spacingAndGlyphs" fill-opacity="0.72" stroke-opacity="0.72">08:31:34</text>
<path d="M1277 670.1H1254.6Q1252.1 670.1 1252.1 672.6V684.3Q1252.1 686.8 1254.6 686.8H1277Z" fill="#7e57c2"/>
<text x="1257.5" y="682.7" font-size="12" fill="#fff" stroke="#fff" stroke-width="0.35" textLength="15.3" lengthAdjust="spacingAndGlyphs">RSI</text>
<path d="M1278 670.1H1318.4Q1320.9 670.1 1320.9 672.6V684.3Q1320.9 686.8 1318.4 686.8H1278Z" fill="#7e57c2"/>
<text x="1286" y="682.7" font-size="12" fill="#fff" stroke="#fff" stroke-width="0.35" textLength="29.4" lengthAdjust="spacingAndGlyphs">41.82</text>
<path d="M1277 687.1H1200.6Q1198.1 687.1 1198.1 689.6V701.3Q1198.1 703.8 1200.6 703.8H1277Z" fill="#fdd835"/>
<text x="1202.6" y="699.9" font-size="12" fill="#131722" stroke="#131722" stroke-width="0.2" textLength="70.2" lengthAdjust="spacingAndGlyphs">RSI-based MA</text>
<path d="M1278 687.1H1318.4Q1320.9 687.1 1320.9 689.6V701.3Q1320.9 703.8 1318.4 703.8H1278Z" fill="#fdd835"/>
<text x="1286" y="699.9" font-size="12" fill="#131722" stroke="#131722" stroke-width="0.2" textLength="29.2" lengthAdjust="spacingAndGlyphs">40.48</text>
<path d="M1183.45 535.32A9.55 9.55 0 1 0 1189.56 541.37" fill="none" stroke="#9c27b0" stroke-width="1.9"/>
<path d="M1183.0 539.3L1176.4 544.6L1180.1 544.7L1177.3 549.7L1184.5 544.2L1180.8 544.15Z" fill="#9c27b0" stroke="#9c27b0" stroke-width="0.5" stroke-linejoin="round"/>
<circle cx="1187.4" cy="537.6" r="2.6" fill="#f23645"/>
<g fill="#141414"><path d="M12 785h12v15h-6.2v-8.2H12z"/><circle cx="28.3" cy="788" r="3"/><path d="M35.2 785h6.8l-6.3 15h-6.8z"/></g>
<text x="49.5" y="799.7" font-size="21" fill="#141414" stroke="#141414" stroke-width="0.2" textLength="120.2" lengthAdjust="spacingAndGlyphs" font-weight="bold">TradingView</text>
</svg></body></html>
